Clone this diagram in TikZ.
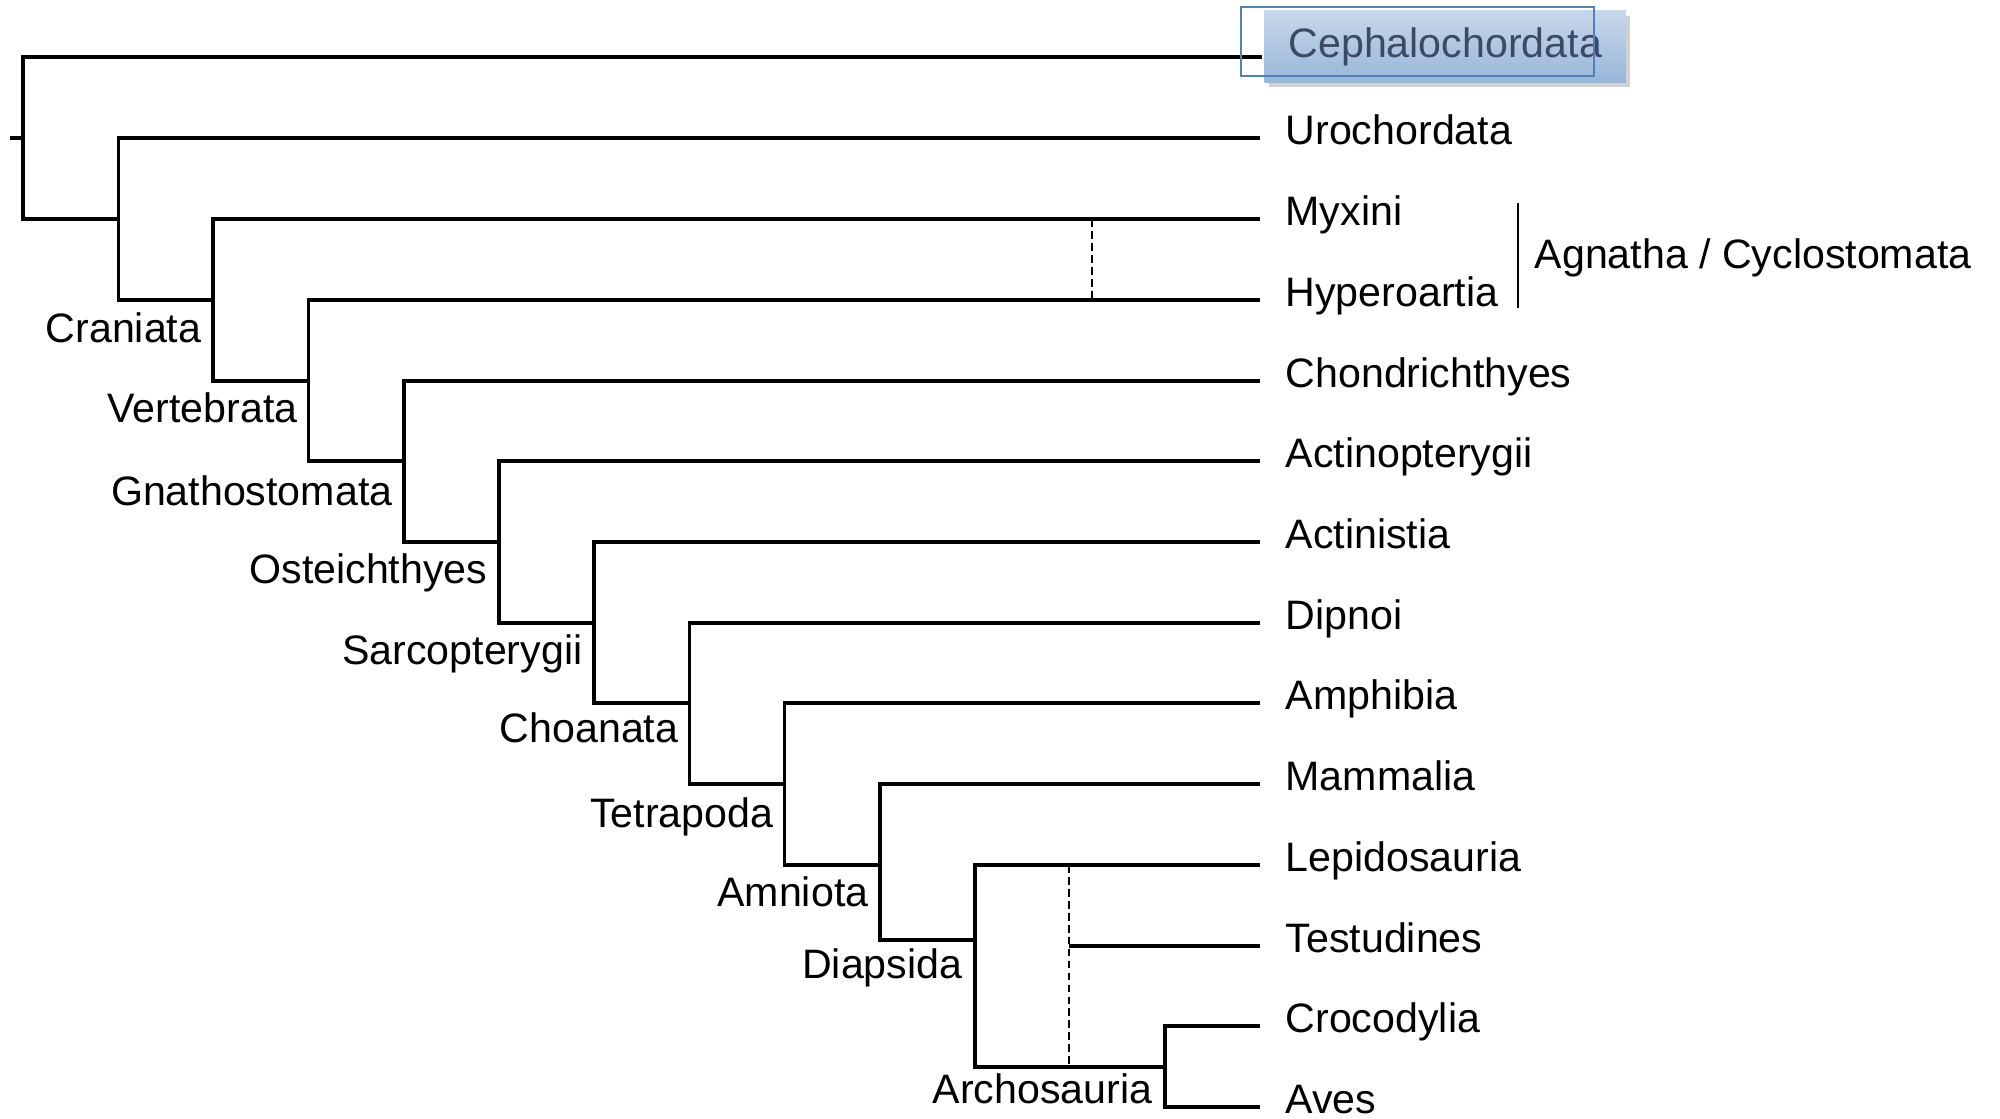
\documentclass[tikz,border=0pt]{standalone}
\usepackage{fontspec}
\setmainfont{Liberation Sans}
\usepackage{tikz}
\usetikzlibrary{shadows}
\usepackage{xcolor}
\definecolor{cephtop}{HTML}{C8D7EB}
\definecolor{cephbot}{HTML}{97B6D8}
\definecolor{cephtext}{HTML}{3A4B63}
\definecolor{selblue}{HTML}{4F81BD}

\begin{document}
\begin{tikzpicture}[x=0.01cm, y=-0.01cm, line width=0.95pt,
  every node/.style={font=\fontsize{11.7}{14}\selectfont},
  taxon/.style={anchor=west, inner xsep=0.24cm, inner ysep=0pt, text height=0.31cm, text depth=0.18cm},
  clade/.style={anchor=base east, inner sep=0pt},
  cephbox/.style={anchor=west, minimum width=3.61cm, minimum height=0.71cm, inner sep=0pt,
    text height=0.3cm, text depth=0.08cm, top color=cephtop, bottom color=cephbot, text=cephtext,
    drop shadow={shadow xshift=1.2pt, shadow yshift=-1.5pt, opacity=0.3, fill=black!60}},
  link/.style={dashed, line width=0.75pt, dash pattern=on 2.2pt off 1.2pt}]
  \useasboundingbox (0,0) rectangle (2000,1118);
  % tips
  \node[cephbox] (ceph) at (1263,46.5) {Cephalochordata};
  \node[taxon] (uro) at (1260,138) {Urochordata};
  \node[taxon] (myxini) at (1260,219) {Myxini};
  \node[taxon] (hyperoartia) at (1260,300) {Hyperoartia};
  \node[taxon] (chondrichthyes) at (1260,381) {Chondrichthyes};
  \node[taxon] (actinopterygii) at (1260,461) {Actinopterygii};
  \node[taxon] (actinistia) at (1260,542) {Actinistia};
  \node[taxon] (dipnoi) at (1260,623) {Dipnoi};
  \node[taxon] (amphibia) at (1260,703) {Amphibia};
  \node[taxon] (mammalia) at (1260,784) {Mammalia};
  \node[taxon] (lepidosauria) at (1260,865) {Lepidosauria};
  \node[taxon] (testudines) at (1260,946) {Testudines};
  \node[taxon] (crocodylia) at (1260,1026) {Crocodylia};
  \node[taxon] (aves) at (1260,1107) {Aves};
  % branching points
  \coordinate (stem) at (10,138);
  \coordinate (cephend) at (1262,57);
  \coordinate (chordata) at (23,138);
  \coordinate (olfactores) at (118.6,219);
  \coordinate (craniata) at (213,300);
  \coordinate (vertebrata) at (308.6,381);
  \coordinate (gnathostomata) at (404,461);
  \coordinate (osteichthyes) at (499,542);
  \coordinate (sarcopterygii) at (594,623);
  \coordinate (choanata) at (689.5,703);
  \coordinate (tetrapoda) at (784.5,784);
  \coordinate (amniota) at (880,865);
  \coordinate (diapsida) at (975,940);
  \coordinate (archosauria) at (1165,1067);
  \coordinate (turtle) at (1069,946);
  \coordinate (cyclo) at (1092,219);
  % clade names
  \node[clade] (cranlabel) at (203,342) {Craniata};
  \node[clade] (vertlabel) at (299,422) {Vertebrata};
  \node[clade] (gnathlabel) at (394,505) {Gnathostomata};
  \node[clade] (ostlabel) at (489,583) {Osteichthyes};
  \node[clade] (sarclabel) at (584,664) {Sarcopterygii};
  \node[clade] (choalabel) at (680,742) {Choanata};
  \node[clade] (tetlabel) at (775,827) {Tetrapoda};
  \node[clade] (amnlabel) at (870,906) {Amniota};
  \node[clade] (diaplabel) at (964,978) {Diapsida};
  \node[clade] (archlabel) at (1154,1103) {Archosauria};
  \node[anchor=base west, inner sep=0pt] (agnatha) at (1533,268) {Agnatha / Cyclostomata};
  \coordinate (brtop) at (1518,203);
  \coordinate (brbot) at (1518,308);
  % tree
  \draw (stem) -- (chordata);
  \draw (cephend) -| (chordata) |- (olfactores);
  \draw (uro.west) -| (olfactores) |- (craniata);
  \draw (myxini.west) -| (craniata) |- (vertebrata);
  \draw (hyperoartia.west) -| (vertebrata) |- (gnathostomata);
  \draw (chondrichthyes.west) -| (gnathostomata) |- (osteichthyes);
  \draw (actinopterygii.west) -| (osteichthyes) |- (sarcopterygii);
  \draw (actinistia.west) -| (sarcopterygii) |- (choanata);
  \draw (dipnoi.west) -| (choanata) |- (tetrapoda);
  \draw (amphibia.west) -| (tetrapoda) |- (amniota);
  \draw (mammalia.west) -| (amniota) |- (diapsida);
  \draw (lepidosauria.west) -| (diapsida) |- (archosauria);
  \draw (crocodylia.west) -| (archosauria) |- (aves.west);
  \draw (testudines.west) -- (turtle);
  \draw[link] (lepidosauria.west -| turtle) -- (turtle |- archosauria);
  \draw[link] (cyclo) -- (cyclo |- hyperoartia.west);
  \draw[line width=0.8pt] (brtop) -- (brbot);
  % selection frame
  \draw[selblue, line width=0.7pt] (1241,7) rectangle (1594,76);
\end{tikzpicture}
\end{document}
